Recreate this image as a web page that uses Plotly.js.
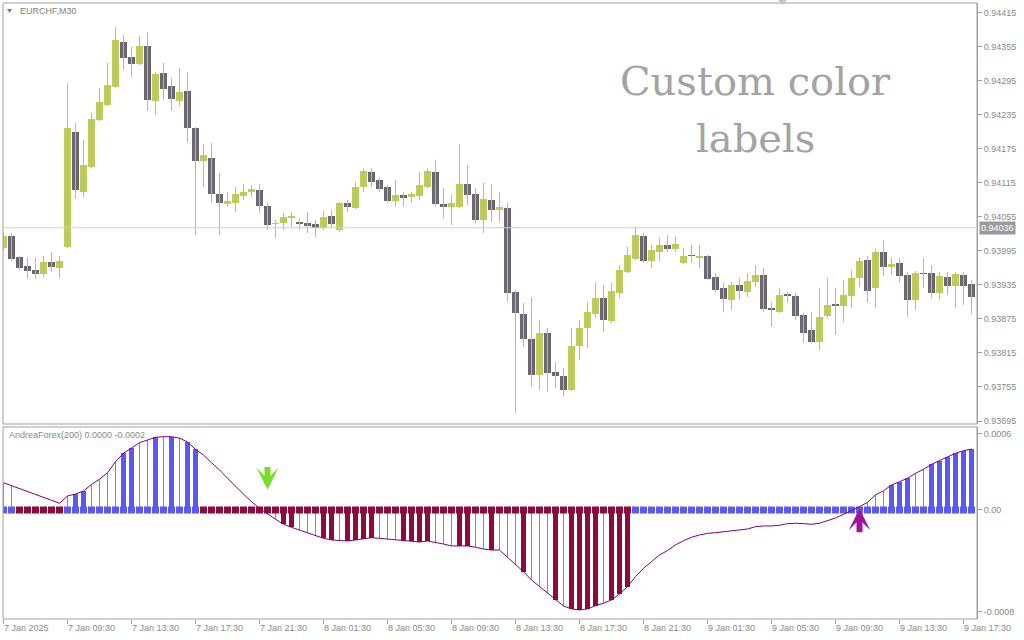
<!DOCTYPE html>
<html><head><meta charset="utf-8">
<script src="https://cdn.plot.ly/plotly-3.0.1.min.js"></script>
<style>html,body{margin:0;padding:0;background:#fff;}#chart{width:1024px;height:640px;}</style>
</head><body><div id="chart"></div>
<script>
// ---- EURCHF M30 candles (bar index 0 = 7 Jan 2025 05:30) ----
const openP = [
0.94000,0.94021,0.93984,0.93969,0.93961,0.93954,0.93976,0.93965,0.94002,0.94205,
0.94099,0.94143,0.94226,0.94253,0.94284,0.94364,0.94337,0.94325,0.94357,0.94260,
0.94309,0.94286,0.94260,0.94277,0.94212,0.94154,0.94159,0.94096,0.94078,0.94080,
0.94092,0.94099,0.94103,0.94074,0.94043,0.94044,0.94053,0.94046,0.94044,0.94043,
0.94036,0.94057,0.94032,0.94080,0.94071,0.94108,0.94134,0.94120,0.94108,0.94083,
0.94094,0.94090,0.94092,0.94108,0.94134,0.94078,0.94073,0.94073,0.94113,0.94096,
0.94050,0.94085,0.94067,0.94071,0.93923,0.93884,0.93840,0.93776,0.93850,0.93781,
0.93774,0.93750,0.93827,0.93859,0.93884,0.93912,0.93871,0.93921,0.93958,0.93981,
0.94021,0.93977,0.93993,0.94006,0.93999,0.93974,0.93988,0.93983,0.93986,0.93949,
0.93930,0.93909,0.93935,0.93923,0.93940,0.93953,0.93894,0.93887,0.93919,0.93916,
0.93882,0.93856,0.93834,0.93880,0.93901,0.93898,0.93916,0.93947,0.93979,0.93930,
0.93993,0.93967,0.93974,0.93953,0.93909,0.93956,0.93956,0.93921,0.93949,0.93933,
0.93953,0.93937];
const highP = [
0.94029,0.94027,0.93986,0.93984,0.93984,0.93986,0.93993,0.93986,0.94291,0.94221,
0.94191,0.94239,0.94283,0.94327,0.94390,0.94376,0.94355,0.94374,0.94381,0.94311,
0.94327,0.94300,0.94318,0.94311,0.94214,0.94184,0.94186,0.94133,0.94099,0.94108,
0.94113,0.94111,0.94113,0.94080,0.94050,0.94062,0.94064,0.94053,0.94064,0.94050,
0.94066,0.94067,0.94081,0.94085,0.94117,0.94141,0.94141,0.94124,0.94111,0.94120,
0.94099,0.94099,0.94134,0.94141,0.94156,0.94106,0.94094,0.94184,0.94147,0.94106,
0.94115,0.94113,0.94099,0.94080,0.93926,0.93903,0.93914,0.93873,0.93859,0.93799,
0.93789,0.93859,0.93873,0.93905,0.93939,0.93935,0.93939,0.93970,0.94002,0.94037,
0.94027,0.94006,0.94018,0.94023,0.94021,0.94000,0.94006,0.94006,0.93988,0.93956,
0.93939,0.93940,0.93947,0.93956,0.93970,0.93965,0.93905,0.93930,0.93923,0.93921,
0.93886,0.93887,0.93930,0.93947,0.93930,0.93944,0.93961,0.93984,0.93986,0.93999,
0.94014,0.93983,0.93983,0.93958,0.93960,0.93983,0.93970,0.93958,0.93958,0.93958,
0.93958,0.93944];
const lowP = [
0.93997,0.93977,0.93961,0.93946,0.93946,0.93949,0.93958,0.93947,0.94000,0.94087,
0.94090,0.94141,0.94224,0.94251,0.94283,0.94314,0.94302,0.94323,0.94242,0.94235,
0.94261,0.94242,0.94251,0.94186,0.94023,0.94108,0.94080,0.94023,0.94073,0.94064,
0.94085,0.94090,0.94062,0.94032,0.94018,0.94032,0.94037,0.94032,0.94027,0.94020,
0.94032,0.94036,0.94029,0.94064,0.94069,0.94099,0.94108,0.94099,0.94080,0.94073,
0.94073,0.94080,0.94085,0.94106,0.94073,0.94053,0.94041,0.94071,0.94076,0.94044,
0.94027,0.94046,0.94046,0.93905,0.93709,0.93826,0.93755,0.93750,0.93746,0.93753,
0.93739,0.93748,0.93803,0.93824,0.93877,0.93852,0.93868,0.93912,0.93956,0.93979,
0.93974,0.93965,0.93977,0.93993,0.93993,0.93972,0.93974,0.93965,0.93944,0.93921,
0.93887,0.93891,0.93909,0.93914,0.93931,0.93887,0.93861,0.93886,0.93903,0.93873,
0.93833,0.93833,0.93820,0.93877,0.93847,0.93870,0.93894,0.93931,0.93903,0.93894,
0.93951,0.93953,0.93939,0.93879,0.93891,0.93930,0.93912,0.93909,0.93917,0.93894,
0.93900,0.93884];
const closeP = [
0.94021,0.93981,0.93965,0.93960,0.93954,0.93976,0.93967,0.93977,0.94212,0.94103,
0.94147,0.94228,0.94258,0.94288,0.94367,0.94336,0.94325,0.94357,0.94261,0.94307,
0.94281,0.94263,0.94276,0.94212,0.94154,0.94164,0.94096,0.94080,0.94083,0.94096,
0.94099,0.94104,0.94074,0.94041,0.94044,0.94055,0.94057,0.94043,0.94039,0.94036,
0.94055,0.94043,0.94080,0.94073,0.94108,0.94136,0.94117,0.94104,0.94083,0.94094,
0.94089,0.94096,0.94111,0.94136,0.94078,0.94073,0.94080,0.94113,0.94094,0.94050,
0.94087,0.94067,0.94073,0.93921,0.93886,0.93840,0.93776,0.93850,0.93780,0.93774,
0.93750,0.93827,0.93859,0.93887,0.93912,0.93873,0.93924,0.93961,0.93988,0.94023,
0.93977,0.93997,0.94006,0.93999,0.94007,0.93986,0.93986,0.93986,0.93946,0.93926,
0.93910,0.93935,0.93924,0.93942,0.93953,0.93893,0.93891,0.93917,0.93916,0.93880,
0.93850,0.93834,0.93879,0.93900,0.93898,0.93917,0.93947,0.93977,0.93924,0.93993,
0.93967,0.93972,0.93951,0.93909,0.93956,0.93954,0.93921,0.93951,0.93933,0.93954,
0.93933,0.93914];
const currentPrice = 0.94036;

// ---- AndreaForex(200) indicator ----
const forexValue = [
0.000214,0.000191,0.000165,0.000139,0.000118,0.000096,0.000076,0.000053,0.000110,0.000125,
0.000149,0.000201,0.000241,0.000292,0.000379,0.000445,0.000484,0.000528,0.000549,0.000570,
0.000575,0.000575,0.000564,0.000533,0.000476,0.000431,0.000371,0.000314,0.000249,0.000183,
0.000125,0.000065,0.000013,-0.000031,-0.000073,-0.000112,-0.000136,-0.000157,-0.000183,-0.000204,
-0.000222,-0.000235,-0.000241,-0.000243,-0.000235,-0.000227,-0.000217,-0.000222,-0.000227,-0.000235,
-0.000241,-0.000243,-0.000251,-0.000243,-0.000253,-0.000267,-0.000282,-0.000282,-0.000282,-0.000292,
-0.000306,-0.000314,-0.000314,-0.000371,-0.000426,-0.000484,-0.000549,-0.000601,-0.000653,-0.000706,
-0.000753,-0.000776,-0.000784,-0.000776,-0.000750,-0.000731,-0.000706,-0.000659,-0.000601,-0.000523,
-0.000457,-0.000405,-0.000353,-0.000318,-0.000274,-0.000241,-0.000214,-0.000196,-0.000183,-0.000178,
-0.000170,-0.000165,-0.000157,-0.000149,-0.000131,-0.000125,-0.000125,-0.000120,-0.000107,-0.000104,
-0.000107,-0.000112,-0.000104,-0.000086,-0.000063,-0.000034,-0.000005,0.000026,0.000060,0.000118,
0.000151,0.000196,0.000222,0.000249,0.000288,0.000319,0.000358,0.000387,0.000413,0.000445,
0.000465,0.000478];
// trend side per bar: 1 = up (blue), -1 = down (maroon)
const trendSide = [
1,1,-1,-1,-1,-1,-1,-1,1,1,
1,1,1,1,1,1,1,1,1,1,
1,1,1,1,1,-1,-1,-1,-1,-1,
-1,-1,-1,-1,-1,-1,-1,-1,-1,-1,
-1,-1,-1,-1,-1,-1,-1,-1,-1,-1,
-1,-1,-1,-1,-1,-1,-1,-1,-1,-1,
-1,-1,-1,-1,-1,-1,-1,-1,-1,-1,
-1,-1,-1,-1,-1,-1,-1,-1,-1,1,
1,1,1,1,1,1,1,1,1,1,
1,1,1,1,1,1,1,1,1,1,
1,1,1,1,1,1,1,1,1,1,
1,1,1,1,1,1,1,1,1,1,
1,1];
// histogram strength: 0 none, 1 weak, 2 strong
const histStrength = [
1,1,0,0,0,0,0,0,1,2,
2,1,1,1,1,2,2,1,1,2,
1,2,1,2,2,0,0,0,0,0,
0,0,0,1,1,2,2,1,1,1,
2,2,1,2,2,2,2,1,1,1,
2,2,2,2,1,1,1,2,2,1,
1,2,1,1,1,2,1,1,1,2,
1,2,2,2,2,1,2,2,2,0,
0,0,0,0,0,0,0,0,0,0,
0,0,0,0,0,0,0,0,0,0,
0,0,0,0,0,0,0,1,1,1,
1,2,2,2,1,1,2,2,2,2,
2,2];
const sellSignal = {bar: 33, level: 0.00016};
const buySignal = {bar: 107, level: 0.00001};

const timeLabels = ['7 Jan 2025','7 Jan 09:30','7 Jan 13:30','7 Jan 17:30','7 Jan 21:30',
 '8 Jan 01:30','8 Jan 05:30','8 Jan 09:30','8 Jan 13:30','8 Jan 17:30','8 Jan 21:30',
 '9 Jan 01:30','9 Jan 05:30','9 Jan 09:30','9 Jan 13:30','9 Jan 17:30'];
const barsPerLabel = 8;

// ---- styling ----
const UP = '#bdcc5a', DOWN = '#6c6673', WICK = '#b8b3bd';
const BLUE = '#5a5af2', MAROON = '#8c0a3c', WEAK = '#8c8c8c', LINE = '#800080';
const AXIS = '#a0a0a0', TXT = '#8a8a8a';

const bars = openP.map((_, i) => i);
const wx = [], wy = [];
bars.forEach(i => { wx.push(i, i, null); wy.push(lowP[i], highP[i], null); });

const traces = [
  {type:'scatter', mode:'lines', x:wx, y:wy, line:{color:WICK, width:1}, xaxis:'x', yaxis:'y', hoverinfo:'skip'},
  {type:'bar', x:bars, base:openP, y:closeP.map((c,i) => c - openP[i]), width:0.875,
   marker:{color:closeP.map((c,i) => c >= openP[i] ? UP : DOWN), line:{width:0}}, xaxis:'x', yaxis:'y'},
  {type:'bar', x:bars, y:forexValue.map((v,i) => histStrength[i] === 1 ? v : null), width:0.125,
   marker:{color:WEAK, line:{width:0}}, xaxis:'x', yaxis:'y2'},
  {type:'bar', x:bars, y:forexValue.map((v,i) => histStrength[i] === 2 ? v : null), width:0.625,
   marker:{color:trendSide.map(s => s > 0 ? BLUE : MAROON), line:{width:0}}, xaxis:'x', yaxis:'y2'},
  {type:'scatter', mode:'markers', x:bars, y:bars.map(() => 0),
   marker:{symbol:'square', size:7, color:trendSide.map(s => s > 0 ? BLUE : MAROON), line:{width:0}}, xaxis:'x', yaxis:'y2'},
  {type:'scatter', mode:'lines', x:bars, y:forexValue, line:{color:LINE, width:1}, xaxis:'x', yaxis:'y2'}
];

const tickvals = timeLabels.map((_, i) => i * barsPerLabel);

const layout = {
  width:1024, height:640,
  margin:{l:3, r:47, t:3, b:21},
  paper_bgcolor:'#ffffff', plot_bgcolor:'#ffffff',
  showlegend:false, barmode:'overlay', bargap:0,
  font:{family:'Liberation Sans, Arial, sans-serif', size:9, color:TXT},
  xaxis:{range:[-0.0625, 121.6875], anchor:'y2', tickmode:'array', tickvals:tickvals, ticktext:timeLabels,
    ticks:'outside', ticklen:4, tickcolor:AXIS, showgrid:false, zeroline:false, showline:false,
    ticklabelposition:'outside right', tickfont:{size:9, color:TXT}},
  yaxis:{domain:[0.31656, 1], range:[0.936897, 0.944326], side:'right', anchor:'x',
    tickmode:'linear', tick0:0.93695, dtick:0.0006, tickformat:'.5f',
    ticks:'outside', ticklen:4, tickcolor:AXIS, showline:true, linecolor:AXIS, linewidth:1,
    showgrid:false, zeroline:false, tickfont:{size:9, color:TXT}},
  yaxis2:{domain:[0, 0.31169], range:[-0.000855, 0.000651], side:'right', anchor:'x',
    tickmode:'array', tickvals:[0.0006, 0, -0.0008], ticktext:['0.0006','0.00','-0.0008'],
    ticks:'outside', ticklen:4, tickcolor:AXIS, showline:true, linecolor:AXIS, linewidth:1,
    showgrid:false, zeroline:false, tickfont:{size:9, color:TXT}},
  shapes:[
    {type:'rect', xref:'x domain', yref:'y domain', x0:0, x1:1, y0:0, y1:1, line:{color:AXIS, width:1}},
    {type:'rect', xref:'x domain', yref:'y2 domain', x0:0, x1:1, y0:0, y1:1, line:{color:AXIS, width:1}},
    {type:'line', xref:'x domain', yref:'y', x0:0, x1:1, y0:currentPrice, y1:currentPrice, line:{color:'#cccccc', width:1}},
    {type:'path', xref:'paper', yref:'paper', path:'M0.0041,0.9903 L0.0092,0.9903 L0.0067,0.9838 Z', fillcolor:'#777777', line:{width:0}},
    {type:'path', xref:'paper', yref:'paper', path:'M0.7957,1.0049 L0.8049,1.0049 L0.8003,0.9968 Z', fillcolor:'#c4c4c4', line:{width:0}}
  ],
  annotations:[
    {xref:'paper', yref:'paper', x:0.0154, y:0.987, xanchor:'left', yanchor:'middle', showarrow:false,
     text:'EURCHF,M30', font:{size:9, color:'#808080'}},
    {xref:'paper', yref:'paper', x:0.0041, y:0.2987, xanchor:'left', yanchor:'middle', showarrow:false,
     text:'AndreaForex(200) 0.0000 -0.0002', font:{size:9, color:'#8a8a8a'}},
    {xref:'paper', yref:'paper', x:0.7726, y:0.8734, xanchor:'center', yanchor:'middle', showarrow:false,
     text:'Custom color', font:{family:'DejaVu Serif, serif', size:40, color:'#a3a3a3'}},
    {xref:'paper', yref:'paper', x:0.7726, y:0.7808, xanchor:'center', yanchor:'middle', showarrow:false,
     text:'labels', font:{family:'DejaVu Serif, serif', size:40, color:'#a3a3a3'}},
    {xref:'paper', yref:'y', x:1, xshift:2, y:currentPrice, xanchor:'left', yanchor:'middle', showarrow:false,
     text:currentPrice.toFixed(5), bgcolor:'#9a9a9a', borderpad:1, font:{size:9, color:'#ffffff'}},
    {xref:'x', yref:'y2', x:sellSignal.bar, y:sellSignal.level, ax:0, ay:-24, text:'', showarrow:true,
     arrowhead:3, arrowsize:0.6, arrowwidth:6, arrowcolor:'#78dc28', standoff:0},
    {xref:'x', yref:'y2', x:buySignal.bar, y:buySignal.level, ax:0, ay:25, text:'', showarrow:true,
     arrowhead:3, arrowsize:0.6, arrowwidth:6, arrowcolor:'#a0149a', standoff:0}
  ]
};

Plotly.newPlot('chart', traces, layout, {staticPlot:true, displayModeBar:false});
</script>
</body></html>
